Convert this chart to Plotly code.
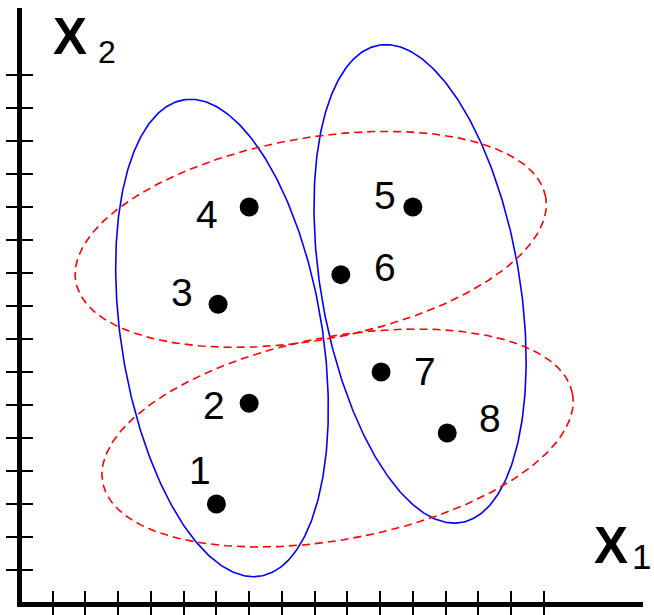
import numpy as np
import plotly.graph_objects as go

# ---- data ----
point_ids = ["1", "2", "3", "4", "5", "6", "7", "8"]
point_x = [6.0, 7.0, 6.05, 7.0, 12.0, 9.8, 11.03, 13.05]
point_y = [3.0, 6.05, 9.05, 12.0, 12.0, 9.95, 7.0, 5.15]
label_x = [5.50, 5.93, 4.95, 5.71, 11.15, 11.15, 12.37, 14.36]
label_y = [4.00, 5.97, 9.42, 11.76, 12.36, 10.18, 7.00, 5.58]

tick_values = list(range(1, 17))

# ellipses: centre, semi-axes, rotation of major axis (deg)
ell_group = ["blue", "blue", "red", "red"]
ell_cx = [6.17, 12.22, 8.88, 9.70]
ell_cy = [8.03, 9.67, 11.02, 5.00]
ell_a = [7.31, 7.34, 7.29, 7.30]
ell_b = [3.07, 3.03, 3.06, 3.07]
ell_ang = [99.2, 99.9, 10.1, 10.6]

x_range = [0.061, 19.03]
y_range = [0.03, 18.03]

fig = go.Figure()

t = np.linspace(0, 2 * np.pi, 400)
for g, cx, cy, a, b, ang in zip(ell_group, ell_cx, ell_cy, ell_a, ell_b, ell_ang):
    p = np.deg2rad(ang)
    ex = cx + a * np.cos(t) * np.cos(p) - b * np.sin(t) * np.sin(p)
    ey = cy + a * np.cos(t) * np.sin(p) + b * np.sin(t) * np.cos(p)
    if g == "blue":
        line = dict(color="#0000ff", width=1.6)
    else:
        line = dict(color="#ff0000", width=1.6, dash="8px,5px")
    fig.add_trace(go.Scatter(x=ex, y=ey, mode="lines", line=line,
                             hoverinfo="skip"))

fig.add_trace(go.Scatter(x=point_x, y=point_y, mode="markers",
                         marker=dict(size=19, color="black"),
                         text=point_ids, hoverinfo="text"))

# invisible trace to materialise overlay axes
fig.add_trace(go.Scatter(x=[None], y=[None], xaxis="x2", yaxis="y2",
                         showlegend=False))

for lid, lx, ly in zip(point_ids, label_x, label_y):
    fig.add_annotation(x=lx, y=ly, text=lid, showarrow=False,
                       xanchor="center", yanchor="middle",
                       font=dict(family="Liberation Sans, Arial", size=39,
                                 color="black"))

# axis titles
fig.add_annotation(x=1.53, y=17.17, text="<b>X</b>", showarrow=False,
                   xanchor="center", yanchor="middle",
                   font=dict(family="Liberation Sans, Arial", size=51, color="black"))
fig.add_annotation(x=2.65, y=16.71, text="2", showarrow=False,
                   xanchor="center", yanchor="middle",
                   font=dict(family="Liberation Sans, Arial", size=32, color="black"))
fig.add_annotation(x=18.06, y=1.73, text="<b>X</b>", showarrow=False,
                   xanchor="center", yanchor="middle",
                   font=dict(family="Liberation Sans, Arial", size=51, color="black"))
fig.add_annotation(x=18.62, y=1.42, text="1", showarrow=False,
                   xanchor="left", yanchor="middle",
                   font=dict(family="Liberation Sans, Arial", size=35, color="black"))

axis_common = dict(showgrid=False, zeroline=False, showticklabels=False,
                   tickvals=tick_values, tickcolor="black", tickwidth=2,
                   ticklen=11, automargin=False)

fig.update_layout(
    template="none",
    width=654, height=615,
    margin=dict(l=22, r=11, t=8, b=13, pad=0),
    paper_bgcolor="white", plot_bgcolor="white",
    showlegend=False,
    xaxis=dict(range=x_range, showline=True, linewidth=5, linecolor="black",
               ticks="outside", **axis_common),
    yaxis=dict(range=y_range, showline=True, linewidth=5, linecolor="black",
               ticks="outside", **axis_common),
    xaxis2=dict(range=x_range, overlaying="x", anchor="y", side="bottom",
                ticks="inside", showline=False, **axis_common),
    yaxis2=dict(range=y_range, overlaying="y", anchor="x", side="left",
                ticks="inside", showline=False, **axis_common),
)

fig.write_html(
    "out.html",
    config={"displayModeBar": False},
    post_script="document.body.style.margin='0';document.body.style.padding='0';"
                "document.documentElement.style.overflow='hidden';",
)
